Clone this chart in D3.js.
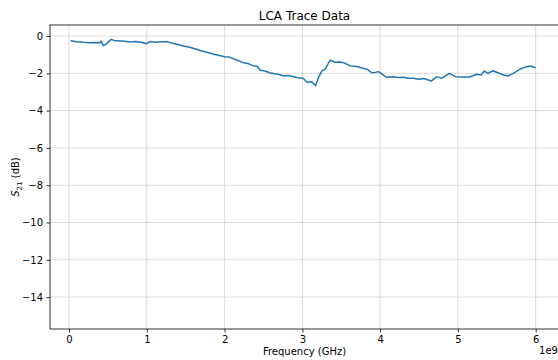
<!DOCTYPE html>
<html>
<head>
<meta charset="utf-8">
<script src="https://cdn.jsdelivr.net/npm/d3@7"></script>
<style>
  body { margin: 0; background: #fff; }
  svg { font-family: "DejaVu Sans", sans-serif; }
</style>
</head>
<body>
<svg id="chart" width="558" height="360"></svg>
<script>
// frequency in GHz (axis shows offset 1e9), S21 in dB
const freq = [0.02, 0.10, 0.18, 0.26, 0.34, 0.40, 0.41, 0.44, 0.48, 0.54, 0.60, 0.69, 0.78, 0.86, 0.94, 1.00,
  1.04, 1.12, 1.20, 1.26, 1.34, 1.40, 1.47, 1.55, 1.64, 1.72, 1.80, 1.85, 1.92, 2.00, 2.06, 2.14, 2.24,
  2.30, 2.36, 2.42, 2.46, 2.52, 2.58, 2.64, 2.70, 2.75, 2.82, 2.88, 2.94, 3.01, 3.06, 3.12, 3.17, 3.21,
  3.25, 3.29, 3.36, 3.42, 3.48, 3.53, 3.61, 3.70, 3.78, 3.84, 3.89, 3.94, 3.98, 4.04, 4.08, 4.16, 4.24,
  4.30, 4.36, 4.43, 4.50, 4.56, 4.62, 4.66, 4.73, 4.79, 4.89, 4.97, 5.05, 5.15, 5.24, 5.30, 5.34, 5.39,
  5.45, 5.53, 5.59, 5.65, 5.71, 5.80, 5.86, 5.93, 6.00];
const s21 = [-0.25, -0.31, -0.34, -0.36, -0.35, -0.36, -0.27, -0.52, -0.42, -0.18, -0.26, -0.27, -0.32, -0.30, -0.35, -0.41,
  -0.30, -0.33, -0.31, -0.30, -0.40, -0.46, -0.54, -0.60, -0.71, -0.82, -0.90, -0.97, -1.03, -1.11, -1.13, -1.26, -1.43,
  -1.47, -1.59, -1.62, -1.84, -1.88, -1.97, -2.02, -2.06, -2.13, -2.12, -2.17, -2.24, -2.27, -2.48, -2.45, -2.66, -2.20,
  -1.88, -1.77, -1.29, -1.41, -1.40, -1.43, -1.59, -1.64, -1.73, -1.80, -1.97, -1.95, -1.91, -2.08, -2.21, -2.18, -2.23,
  -2.21, -2.26, -2.27, -2.32, -2.28, -2.36, -2.41, -2.18, -2.27, -2.00, -2.18, -2.20, -2.20, -2.05, -2.09, -1.88, -2.00,
  -1.86, -2.00, -2.09, -2.14, -2.00, -1.77, -1.68, -1.61, -1.70];
const xTicks = [0, 1, 2, 3, 4, 5, 6];
const yTicks = [0, -2, -4, -6, -8, -10, -12, -14];

const svg = d3.select("#chart");
const M = { left: 50, top: 25, right: 559, bottom: 329 };

const x = d3.scaleLinear().domain([-0.245, 6.3]).range([M.left, M.right]);
const y = d3.scaleLinear().domain([-15.71, 0.59]).range([M.bottom, M.top]);

const fmt = d => d < 0 ? "\u2212" + Math.abs(d) : String(d);

// grid
const grid = svg.append("g").attr("stroke", "#b0b0b0").attr("stroke-opacity", 0.6).attr("stroke-width", 0.8);
grid.selectAll(".gx").data(xTicks).join("line")
  .attr("x1", d => x(d)).attr("x2", d => x(d))
  .attr("y1", M.top).attr("y2", M.bottom);
grid.selectAll(".gy").data(yTicks).join("line")
  .attr("x1", M.left).attr("x2", M.right)
  .attr("y1", d => y(d)).attr("y2", d => y(d));

// line
const line = d3.line().x((d, i) => x(freq[i])).y(d => y(d));
svg.append("path")
  .attr("d", line(s21))
  .attr("fill", "none")
  .attr("stroke", "#1f77b4")
  .attr("stroke-width", 1.5)
  .attr("stroke-linejoin", "round");

// axes
const xAxis = svg.append("g")
  .attr("transform", "translate(0," + M.bottom + ")")
  .call(d3.axisBottom(x).tickValues(xTicks).tickFormat(fmt).tickSize(3.5).tickPadding(3.5));
const yAxis = svg.append("g")
  .attr("transform", "translate(" + M.left + ",0)")
  .call(d3.axisLeft(y).tickValues(yTicks).tickFormat(fmt).tickSize(3.5).tickPadding(3.5));
[xAxis, yAxis].forEach(a => {
  a.select(".domain").remove();
  a.selectAll("text").attr("font-size", 10).attr("fill", "#000").attr("font-family", "DejaVu Sans");
  a.selectAll("line").attr("stroke", "#000").attr("stroke-width", 0.8);
});

// spines
svg.append("rect")
  .attr("x", M.left).attr("y", M.top)
  .attr("width", M.right - M.left).attr("height", M.bottom - M.top)
  .attr("fill", "none").attr("stroke", "#000").attr("stroke-width", 0.8);

// labels
svg.append("text")
  .attr("x", (M.left + M.right) / 2).attr("y", 20)
  .attr("text-anchor", "middle").attr("font-size", 12)
  .text("LCA Trace Data");

svg.append("text")
  .attr("x", (M.left + M.right) / 2).attr("y", 355)
  .attr("text-anchor", "middle").attr("font-size", 10)
  .text("Frequency (GHz)");

svg.append("text")
  .attr("x", 558).attr("y", 354)
  .attr("text-anchor", "end").attr("font-size", 10)
  .text("1e9");

const yl = svg.append("text")
  .attr("transform", "translate(19," + ((M.top + M.bottom) / 2) + ") rotate(-90)")
  .attr("text-anchor", "middle").attr("font-size", 10);
yl.append("tspan").attr("font-style", "italic").text("S");
yl.append("tspan").attr("font-size", 7).attr("dy", 2.5).text("21");
yl.append("tspan").attr("dy", -2.5).text(" (dB)");
</script>
</body>
</html>
